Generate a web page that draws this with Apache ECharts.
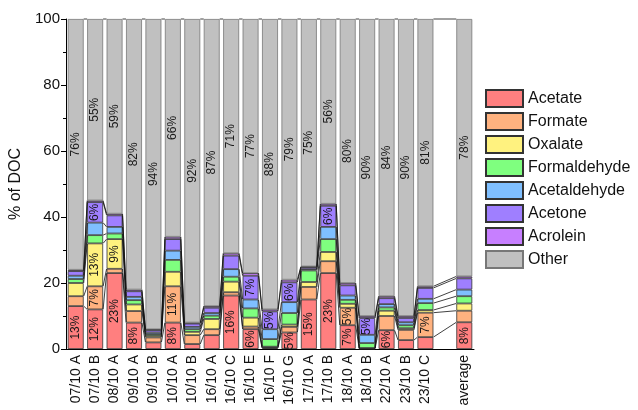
<!DOCTYPE html>
<html>
<head>
<meta charset="utf-8">
<script src="https://cdn.jsdelivr.net/npm/echarts@6/dist/echarts.min.js"></script>
<style>
  html, body { margin: 0; padding: 0; background: #fff; }
  #chart { width: 638px; height: 410px; }
</style>
</head>
<body>
<div id="chart"></div>
<script>
// samples (empty slot before the average)
var categories = ['07/10 A', '07/10 B', '08/10 A', '09/10 A', '09/10 B', '10/10 A', '10/10 B',
  '16/10 A', '16/10 C', '16/10 E', '16/10 F', '16/10 G', '17/10 A', '17/10 B', '18/10 A',
  '18/10 B', '22/10 A', '23/10 B', '23/10 C', '', 'average'];

// % of DOC per compound
var acetate      = [13, 12, 23, 8, 2, 8, 1.5, 4.2, 16.2, 6, 0.3, 5, 15, 23, 7.2, 0.1, 5.7, 2.7, 3.6, null, 8.1];
var formate      = [3, 7, 1.3, 3.5, 1.5, 11, 2.7, 1.8, 1, 0.8, 0.2, 1.7, 3.8, 3.6, 5.3, 0.1, 4.3, 3.1, 7.4, null, 3.5];
var oxalate      = [4, 13, 9, 2, 0.5, 4.4, 1, 3.1, 3.2, 2.7, 0.2, 0.7, 1.5, 2.8, 1.2, 0.1, 1.6, 0.5, 0.8, null, 2.2];
var formaldehyde = [1.2, 2.5, 1.7, 1.3, 0.5, 3.6, 0.8, 1, 1.5, 2.8, 2.3, 3.5, 3.5, 3.9, 1.2, 1.5, 1, 0.9, 2.1, null, 2.2];
var acetaldehyde = [1, 3.8, 2, 1, 0.5, 2.8, 0.7, 0.8, 2.3, 2.7, 3, 3.3, 0.4, 3.7, 1.3, 2.5, 1, 0.9, 1.3, null, 2];
var acetone      = [1.4, 6.2, 3.5, 1.7, 0.7, 3.5, 1, 1.6, 4.1, 7.2, 5.4, 6, 0.6, 6.4, 3.1, 5.1, 1.8, 1.3, 3.3, null, 3.4];
var acrolein     = [0.4, 0.5, 0.5, 0.5, 0.3, 0.7, 0.3, 0.5, 0.7, 0.8, 0.6, 0.8, 0.2, 0.6, 0.7, 0.6, 0.6, 0.6, 0.5, null, 0.6];
var other        = [76, 55, 59, 82, 94, 66, 92, 87, 71, 77, 88, 79, 75, 56, 80, 90, 84, 90, 81, null, 78];

var names  = ['Acetate', 'Formate', 'Oxalate', 'Formaldehyde', 'Acetaldehyde', 'Acetone', 'Acrolein', 'Other'];
var layers = [acetate, formate, oxalate, formaldehyde, acetaldehyde, acetone, acrolein, other];
var colors = ['#ff7f7f', '#ffb27f', '#fff27f', '#7fff7f', '#7fbfff', '#9f7fff', '#c77fff', '#c0c0c0'];

var fontFamily = 'Liberation Sans, Arial, sans-serif';
var barRatio = 0.82;

// cumulative tops of each layer, used by the connecting lines
var cum = layers.map(function () { return []; });
for (var i = 0; i < categories.length; i++) {
  var s = 0;
  for (var k = 0; k < layers.length; k++) {
    if (layers[k][i] == null) { cum[k][i] = null; continue; }
    s += layers[k][i];
    cum[k][i] = s;
  }
}
// pairs of neighbouring bars to link
var links = [];
var prev = null;
for (var i = 0; i < categories.length; i++) {
  if (acetate[i] == null) continue;
  if (prev != null) links.push([prev, i]);
  prev = i;
}

var chart = echarts.init(document.getElementById('chart'));

var series = layers.map(function (arr, k) {
  return {
    name: names[k],
    type: 'bar',
    stack: 'doc',
    barCategoryGap: '18%',
    data: arr.map(function (v) { return v == null ? '-' : v; }),
    itemStyle: {
      color: colors[k],
      borderColor: k == 7 ? '#777' : '#333',
      borderWidth: 0.8
    },
    label: {
      show: true,
      position: 'inside',
      rotate: 90,
      fontSize: 12,
      fontFamily: fontFamily,
      color: '#1a1a1a',
      formatter: function (p) {
        return p.value >= 4.5 ? Math.round(p.value) + '%' : '';
      }
    },
    emphasis: { disabled: true }
  };
});

// thin lines joining the layer boundaries of neighbouring bars
series.push({
  type: 'custom',
  name: 'links',
  z: 5,
  silent: true,
  data: links,
  renderItem: function (params, api) {
    var a = api.value(0), b = api.value(1);
    var band = api.size([1, 0])[0];
    var half = band * barRatio / 2;
    var children = [];
    for (var k = 0; k < layers.length; k++) {
      var p1 = api.coord([a, cum[k][a]]);
      var p2 = api.coord([b, cum[k][b]]);
      children.push({
        type: 'line',
        shape: { x1: p1[0] + half, y1: p1[1], x2: p2[0] - half, y2: p2[1] },
        style: { stroke: '#111', lineWidth: 0.8 }
      });
    }
    return { type: 'group', children: children };
  }
});

var option = {
  animation: false,
  color: colors,
  grid: { left: 66, right: 164, top: 19, bottom: 61 },
  legend: {
    data: names,
    orient: 'vertical',
    left: 485,
    top: 89,
    padding: 0,
    itemWidth: 37,
    itemHeight: 17,
    itemGap: 4,
    icon: 'rect',
    textStyle: { fontSize: 16, fontFamily: fontFamily, color: '#111' }
  },
  xAxis: {
    type: 'category',
    data: categories,
    axisLine: { lineStyle: { color: '#000', width: 1 } },
    axisTick: { alignWithLabel: true, length: 5, lineStyle: { color: '#000' } },
    axisLabel: {
      rotate: 90,
      interval: 0,
      fontSize: 14,
      fontFamily: fontFamily,
      color: '#111',
      margin: 6
    }
  },
  yAxis: {
    type: 'value',
    min: 0,
    max: 100,
    interval: 20,
    name: '% of DOC',
    nameLocation: 'middle',
    nameGap: 36,
    nameTextStyle: { fontSize: 16, fontFamily: fontFamily, color: '#111' },
    axisLine: { show: true, lineStyle: { color: '#000', width: 1 } },
    axisTick: { show: true, length: 5, lineStyle: { color: '#000' } },
    minorTick: { show: true, splitNumber: 2, length: 3, lineStyle: { color: '#000' } },
    splitLine: { show: false },
    axisLabel: { fontSize: 15, fontFamily: fontFamily, color: '#111', margin: 6 }
  },
  series: series
};

chart.setOption(option);
</script>
</body>
</html>
